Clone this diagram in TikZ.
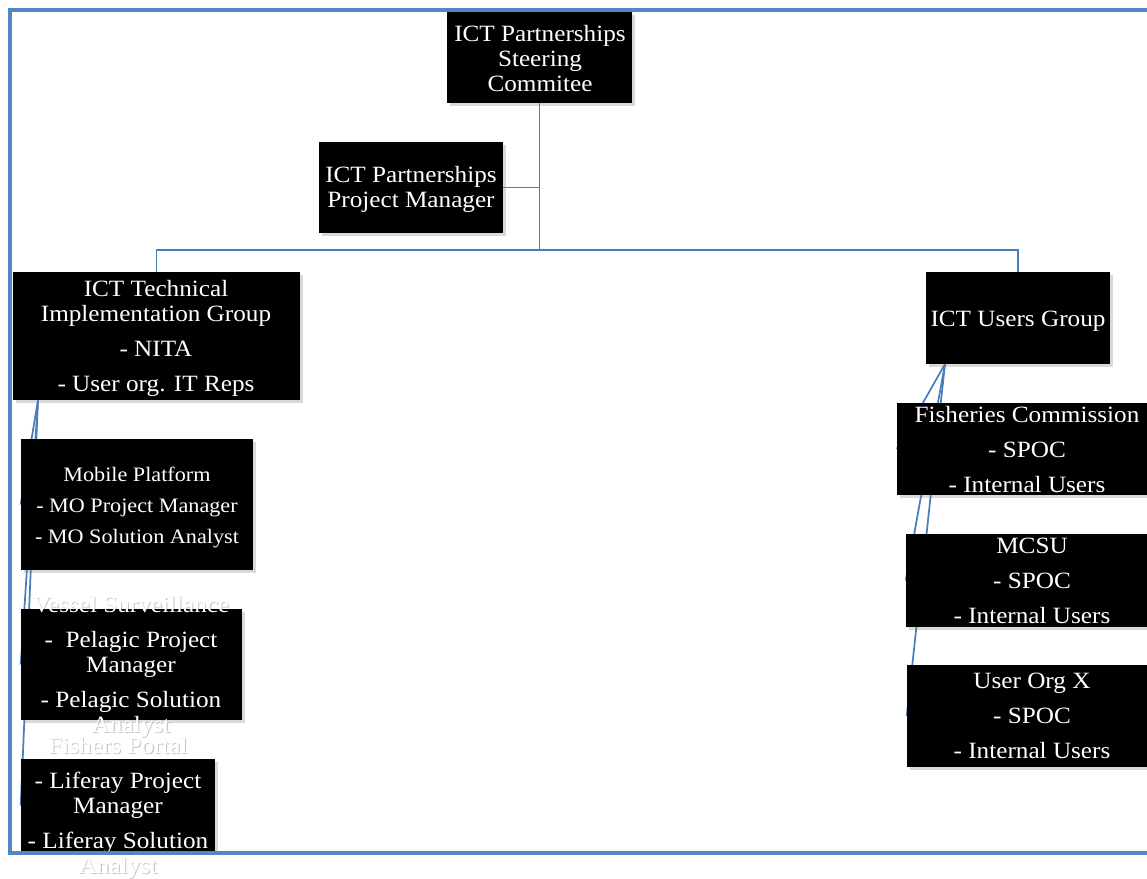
\documentclass[tikz,border=0pt]{standalone}
\usepackage{fontspec}
\setmainfont[FakeStretch=1.08]{Liberation Serif}
\usetikzlibrary{fit,shadows,backgrounds}
\definecolor{orgblue}{RGB}{74,126,187}
\definecolor{frameblue}{RGB}{84,134,196}

% name/x/y/font size/baselineskip/text of every box
\def\orgtexts{steer/540/58.5/17.5/18.75/{ICT Partnerships\\Steering\\Commitee},
	pm/411/189.5/17.5/18.75/{ICT Partnerships\\Project Manager},
	tech/156/338.5/17.5/18.75/{ICT Technical\\Implementation Group\\[7.5pt]- NITA\\[7.5pt]- User org. IT Reps},
	users/1018/321/17.5/18.75/{ICT Users Group},
	fish/1027/449.5/17.5/18.75/{Fisheries Commission\\[7.5pt]- SPOC\\[7.5pt]- Internal Users},
	mcsu/1032/581/17.5/18.75/{MCSU\\[7.5pt]- SPOC\\[7.5pt]- Internal Users},
	orgx/1032/716/17.5/18.75/{User Org X\\[7.5pt]- SPOC\\[7.5pt]- Internal Users},
	mobile/137/507.5/15.4/23.6/{Mobile Platform\\- MO Project Manager\\- MO Solution Analyst},
	vessel/131/666.5/17.5/18.75/{Vessel Surveillance\\[7.5pt]-~~Pelagic Project\\Manager\\[7.5pt]- Pelagic Solution\\Analyst},
	portal/118/807.5/17.5/18.75/{Fishers Portal\\[7.5pt]- Liferay Project\\Manager\\[7.5pt]- Liferay Solution\\Analyst}}

\begin{document}
\begin{tikzpicture}[x=0.75pt,y=-0.75pt,
	box/.style={fill=black, inner sep=0pt, drop shadow={shadow xshift=2pt, shadow yshift=-2.5pt, opacity=.3}},
	txt/.style={text=white, align=center, inner sep=0pt},
	ghost/.style={text=black!22, align=center, inner sep=0pt},
	link/.style={orgblue, line width=1.3pt}]
	\useasboundingbox (0,0) rectangle (1147,879);
	\clip (0,0) rectangle (1147,879);

	% boxes
	\node[box, fit={(447,12) (632,103)}] (steer) {};
	\node[box, fit={(319,142) (503,233)}] (pm) {};
	\node[box, fit={(13,272) (300,400)}] (tech) {};
	\node[box, fit={(926,272) (1110,364)}] (users) {};
	\node[box, fit={(897,403) (1157,495)}] (fish) {};
	\node[box, fit={(906,534) (1158,627)}] (mcsu) {};
	\node[box, fit={(907,665) (1158,767)}] (orgx) {};
	\node[box, fit={(21,439) (253,570)}] (mobile) {};
	\node[box, fit={(21,609) (242,720)}] (vessel) {};
	\node[box, fit={(21,759) (215,852)}] (portal) {};

	\coordinate (bus) at (539.5,250);
	\coordinate (techfoot) at (38,400);
	\coordinate (usersfoot) at (945,364);

	\begin{scope}[on background layer]
		\draw[link] (steer.south) -- (bus);
		\draw[link] (pm.east) -- (pm.east -| steer.south);
		\draw[link] (tech.north) |- (bus) -| (users.north);
		\foreach \c in {mobile,vessel,portal}
			\draw[link] (techfoot) -- (\c.west);
		\foreach \c in {fish,mcsu,orgx}
			\draw[link] (usersfoot) -- (\c.west);
		% soft shade of the white text
		\foreach \n/\x/\y/\fs/\bs/\t in \orgtexts
			\node[ghost, font=\fontsize{\fs}{\bs}\selectfont, xshift=0.8pt, yshift=-1.2pt] at (\x,\y) {\t};
	\end{scope}

	\foreach \n/\x/\y/\fs/\bs/\t in \orgtexts
		\node[txt, font=\fontsize{\fs}{\bs}\selectfont] (\n-t) at (\x,\y) {\t};

	\draw[frameblue, line width=2.6pt] (10,10) rectangle (1180,853);
\end{tikzpicture}
\end{document}
